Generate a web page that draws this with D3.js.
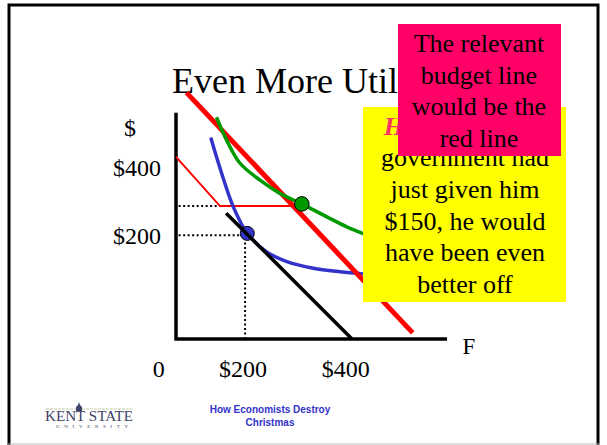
<!DOCTYPE html>
<html>
<head>
<meta charset="utf-8">
<script src="https://cdn.jsdelivr.net/npm/d3@7"></script>
<style>
  body { margin: 0; background: #fff; }
  svg { display: block; }
</style>
</head>
<body>
<script>
(function(){
var width = 607, height = 445;

// budget lines and indifference curves, in dollars (F across, other goods up)
var budgetBlack = [[114, 286], [400, 0]];
var budgetRed = [[24, 560], [538, 14]];
var budgetGift = [[0, 414], [100, 302], [288, 302]];
var greenCurve = [[92, 504], [115, 452], [145, 400], [191, 361], [236, 331], [286, 307], [342, 278], [388, 255], [427, 239]];
var blueCurve = [[79, 458], [92, 414], [111, 354], [130, 301], [162, 240], [206, 198], [252, 176], [312, 161], [373, 153], [427, 148]];
var pointBlue = [162, 240];
var pointGreen = [286, 307];
var giftKink = [100, 302];

var xTickValues = [-39, 152, 386];
var xTickLabels = ["0", "$200", "$400"];
var yTickValues = [389, 234, 480];
var yTickLabels = ["$400", "$200", "$"];

var pinkLines = ["The relevant", "budget line", "would be the", "red line"];
var yellowLines = ["government had", "just given him", "$150, he would", "have been even", "better off"];

var x = d3.scaleLinear().domain([0, 400]).range([176, 352]);
var y = d3.scaleLinear().domain([0, 400]).range([339, 163]);

var line = d3.line()
    .x(function(d) { return x(d[0]); })
    .y(function(d) { return y(d[1]); });
var curve = d3.line()
    .curve(d3.curveCatmullRom)
    .x(function(d) { return x(d[0]); })
    .y(function(d) { return y(d[1]); });

var svg = d3.select("body").append("svg")
    .attr("width", width)
    .attr("height", height);

// slide frame
svg.append("rect")
    .attr("x", 9).attr("y", 5)
    .attr("width", 589).attr("height", 460)
    .attr("fill", "#fff")
    .attr("stroke", "#000")
    .attr("stroke-width", 3);
svg.append("line")
    .attr("x1", 8).attr("x2", 600).attr("y1", 444).attr("y2", 444)
    .attr("stroke", "#bbb");

svg.append("text")
    .attr("x", 172).attr("y", 93)
    .style("font-family", "'Liberation Serif', 'Times New Roman', serif")
    .style("font-size", "36px")
    .text("Even More Utility");

// axes
svg.append("path")
    .attr("d", line([[0, 514], [0, 0], [616, 0]]))
    .attr("fill", "none")
    .attr("stroke", "#000")
    .attr("stroke-width", 3.5);

var labelFont = "'Liberation Serif', 'Times New Roman', serif";

svg.selectAll(".xlab")
    .data(xTickValues)
  .enter().append("text")
    .attr("class", "xlab")
    .attr("x", function(d) { return x(d); })
    .attr("y", y(0) + 38)
    .style("text-anchor", "middle")
    .style("font-family", labelFont)
    .style("font-size", "24px")
    .text(function(d, i) { return xTickLabels[i]; });

svg.selectAll(".ylab")
    .data(yTickValues)
  .enter().append("text")
    .attr("class", "ylab")
    .attr("x", function(d, i) { return i == 2 ? x(0) - 46 : x(0) - 15; })
    .attr("y", function(d) { return y(d); })
    .attr("dy", ".35em")
    .style("text-anchor", function(d, i) { return i == 2 ? "middle" : "end"; })
    .style("font-family", labelFont)
    .style("font-size", "24px")
    .text(function(d, i) { return yTickLabels[i]; });

svg.append("text")
    .attr("x", x(0) + 293).attr("y", y(0) + 15)
    .style("text-anchor", "middle")
    .style("font-family", labelFont)
    .style("font-size", "23px")
    .text("F");

// dotted guides
var dotted = [
    [[6, giftKink[1]], giftKink],
    [[6, pointBlue[1] - 4], [pointBlue[0], pointBlue[1] - 4]],
    [[pointBlue[0] - 5, pointBlue[1]], [pointBlue[0] - 5, 0]]
];
svg.selectAll(".dot-guide")
    .data(dotted)
  .enter().append("path")
    .attr("class", "dot-guide")
    .attr("d", line)
    .attr("fill", "none")
    .attr("stroke", "#000")
    .attr("stroke-width", 2)
    .attr("stroke-dasharray", "2,2.5");

svg.append("path")
    .attr("d", line(budgetGift))
    .attr("fill", "none")
    .attr("stroke", "#ff0000")
    .attr("stroke-width", 2);

svg.append("path")
    .attr("d", curve(blueCurve))
    .attr("fill", "none")
    .attr("stroke", "#3333cc")
    .attr("stroke-width", 3.5);

svg.append("circle")
    .attr("cx", x(pointBlue[0])).attr("cy", y(pointBlue[1]))
    .attr("r", 7)
    .attr("fill", "#3333cc")
    .attr("stroke", "#000")
    .attr("stroke-width", 1);

svg.append("path")
    .attr("d", line(budgetBlack))
    .attr("fill", "none")
    .attr("stroke", "#000")
    .attr("stroke-width", 3.5);

svg.append("path")
    .attr("d", line(budgetRed))
    .attr("fill", "none")
    .attr("stroke", "#ff0000")
    .attr("stroke-width", 5);

svg.append("path")
    .attr("d", curve(greenCurve))
    .attr("fill", "none")
    .attr("stroke", "#009900")
    .attr("stroke-width", 3.5);

svg.append("circle")
    .attr("cx", x(pointGreen[0])).attr("cy", y(pointGreen[1]))
    .attr("r", 7.3)
    .attr("fill", "#009900")
    .attr("stroke", "#000")
    .attr("stroke-width", 1);

// yellow note
svg.append("rect")
    .attr("x", 363).attr("y", 107)
    .attr("width", 203).attr("height", 195)
    .attr("fill", "#ffff00");

var first = svg.append("text")
    .attr("x", 465).attr("y", 135)
    .style("text-anchor", "middle")
    .style("font-family", labelFont)
    .style("font-size", "26px");
first.append("tspan")
    .style("font-weight", "bold")
    .style("font-style", "italic")
    .attr("fill", "#ff3366")
    .text("However");
first.append("tspan")
    .text(", if the");

svg.selectAll(".ytext")
    .data(yellowLines)
  .enter().append("text")
    .attr("class", "ytext")
    .attr("x", 465)
    .attr("y", function(d, i) { return 166 + i * 31.8; })
    .style("text-anchor", "middle")
    .style("font-family", labelFont)
    .style("font-size", "26px")
    .text(function(d) { return d; });

// pink note
svg.append("rect")
    .attr("x", 398).attr("y", 24)
    .attr("width", 163).attr("height", 132)
    .attr("fill", "#ff0066");

svg.selectAll(".ptext")
    .data(pinkLines)
  .enter().append("text")
    .attr("class", "ptext")
    .attr("x", 479)
    .attr("y", function(d, i) { return 52 + i * 31.7; })
    .style("text-anchor", "middle")
    .style("font-family", labelFont)
    .style("font-size", "26px")
    .text(function(d) { return d; });

// footer
var foot = svg.append("g")
    .style("font-family", "'Liberation Sans', Arial, sans-serif")
    .style("font-size", "10px")
    .style("font-weight", "bold")
    .style("text-anchor", "middle")
    .attr("fill", "#3333cc");
foot.append("text").attr("x", 270).attr("y", 413).text("How Economists Destroy");
foot.append("text").attr("x", 270).attr("y", 426).text("Christmas");

// Kent State logo
var logo = svg.append("g");
logo.append("line")
    .attr("x1", 46).attr("x2", 132).attr("y1", 409).attr("y2", 409)
    .attr("stroke", "#d5dcc0")
    .attr("stroke-width", 1.5)
    .attr("stroke-dasharray", "3,1");
logo.append("path")
    .attr("d", "M76,411 L76,407 L78,405 L79,402 L80,405 L82,407 L82,411 Z")
    .attr("fill", "#3d4266");
logo.append("text")
    .attr("x", 45).attr("y", 421)
    .attr("textLength", 88)
    .attr("lengthAdjust", "spacingAndGlyphs")
    .style("font-family", labelFont)
    .style("font-size", "15px")
    .attr("fill", "#3d4266")
    .text("KENT STATE");
logo.append("text")
    .attr("x", 56).attr("y", 428)
    .attr("textLength", 72)
    .style("font-family", labelFont)
    .style("font-size", "5px")
    .attr("fill", "#3d4266")
    .text("UNIVERSITY");
})();
</script>
</body>
</html>
